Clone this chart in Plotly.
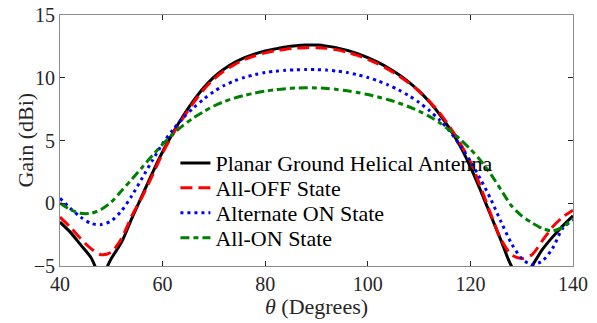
import plotly.graph_objects as go

theta = list(range(40, 141, 2))

planar_ground = [-1.5, -2.3, -3.3, -4.3, -5.8, -4.4, -3.1, -1.2, 0.6, 2.4,
                 4.1, 5.6, 6.95, 8.15, 9.2, 10.05, 10.7, 11.2, 11.6, 11.9,
                 12.13, 12.3, 12.45, 12.55, 12.6, 12.6, 12.52, 12.38, 12.18, 11.92,
                 11.6, 11.22, 10.78, 10.26, 9.65, 8.93, 8.08, 7.08, 5.92, 4.55,
                 2.9, 1.0, -1.0, -3.0, -5.0, -6.0, -5.0, -3.7, -2.7, -1.8, -1.0]

all_off = [-1.1, -1.9, -2.8, -3.6, -4.1, -3.9, -2.8, -1.0, 0.5, 2.2,
           4.0, 5.5, 6.8, 8.0, 9.05, 9.9, 10.55, 11.05, 11.45, 11.75,
           11.98, 12.15, 12.28, 12.36, 12.4, 12.4, 12.34, 12.22, 12.03, 11.78,
           11.47, 11.1, 10.67, 10.17, 9.59, 8.92, 8.13, 7.2, 6.08, 4.78,
           3.3, 1.3, -0.9, -2.9, -4.1, -4.4, -4.1, -3.0, -1.9, -1.1, -0.55]

alternate_on = [0.4, -0.4, -1.1, -1.6, -1.7, -1.4, -0.6, 0.6, 2.0, 3.4,
                4.75, 5.85, 6.8, 7.6, 8.3, 8.9, 9.38, 9.75, 10.03, 10.25,
                10.41, 10.52, 10.59, 10.63, 10.65, 10.65, 10.61, 10.53, 10.41, 10.24,
                10.02, 9.75, 9.42, 9.03, 8.57, 8.03, 7.39, 6.63, 5.72, 4.6,
                3.35, 1.9, 0.3, -1.5, -3.2, -4.4, -4.9, -4.6, -3.6, -2.0, -1.35]

all_on = [0.0, -0.5, -0.8, -0.8, -0.5, 0.1, 1.0, 1.9, 2.85, 3.8,
          4.7, 5.5, 6.2, 6.8, 7.3, 7.75, 8.1, 8.38, 8.6, 8.78,
          8.93, 9.05, 9.13, 9.18, 9.2, 9.19, 9.15, 9.07, 8.96, 8.82,
          8.66, 8.47, 8.25, 7.99, 7.69, 7.34, 6.92, 6.41, 5.8, 5.1,
          4.3, 3.4, 2.3, 1.05, -0.2, -1.0, -1.55, -2.0, -2.2, -1.9, -1.2]

names = ["Planar Ground Helical Antenna", "All-OFF State", "Alternate ON State", "All-ON State"]
series = [planar_ground, all_off, alternate_on, all_on]
colors = ["#000000", "#ff0000", "#0000ff", "#008000"]
dashes = ["solid", "12px,6px", "3px,4px", "9px,4px,5px,4px"]
legend_ids = ["legend", "legend2", "legend3", "legend4"]
legend_rows = [0.410, 0.311, 0.211, 0.112]

SERIF = "Liberation Serif, Times New Roman, DejaVu Serif, serif"

fig = go.Figure()
for n, s, c, d, lg in zip(names, series, colors, dashes, legend_ids):
    fig.add_trace(go.Scatter(x=theta, y=s, mode="lines", name=n, legend=lg,
                             line=dict(color=c, width=3, dash=d, shape="spline", smoothing=0.8)))

axis_common = dict(showline=True, linecolor="#8c8c8c", linewidth=1, mirror="ticks",
                   ticks="inside", ticklen=5, tickcolor="#262626", showgrid=False,
                   zeroline=False, automargin=False,
                   tickfont=dict(family=SERIF, size=20, color="#262626"))

legend_style = dict(x=0.225, xanchor="left", yanchor="middle",
                    bgcolor="rgba(0,0,0,0)", font=dict(family=SERIF, size=22, color="#000000"),
                    itemwidth=30, tracegroupgap=0)

fig.update_layout(
    width=597, height=323,
    margin=dict(l=60, r=24, t=15, b=57),
    paper_bgcolor="white", plot_bgcolor="white",
    font=dict(family=SERIF, color="#262626"),
    xaxis=dict(range=[40, 140], tickvals=[40, 60, 80, 100, 120, 140], **axis_common),
    yaxis=dict(range=[-5, 15], tickvals=[-5, 0, 5, 10, 15], **axis_common),
    showlegend=True,
    annotations=[
        dict(text="<i>θ</i> (Degrees)", xref="paper", yref="paper", x=0.5, y=-0.163,
             xanchor="center", yanchor="middle", showarrow=False,
             font=dict(family=SERIF, size=22, color="#262626")),
        dict(text="Gain (dBi)", xref="paper", yref="paper", x=-0.068, y=0.5,
             xanchor="center", yanchor="middle", textangle=-90, showarrow=False,
             font=dict(family=SERIF, size=22, color="#262626")),
    ],
)
for lg, yr in zip(legend_ids, legend_rows):
    fig.update_layout({lg: dict(y=yr, **legend_style)})

fig.write_html("out.html", config={"displayModeBar": False},
               post_script="document.body.style.margin='0px';")
